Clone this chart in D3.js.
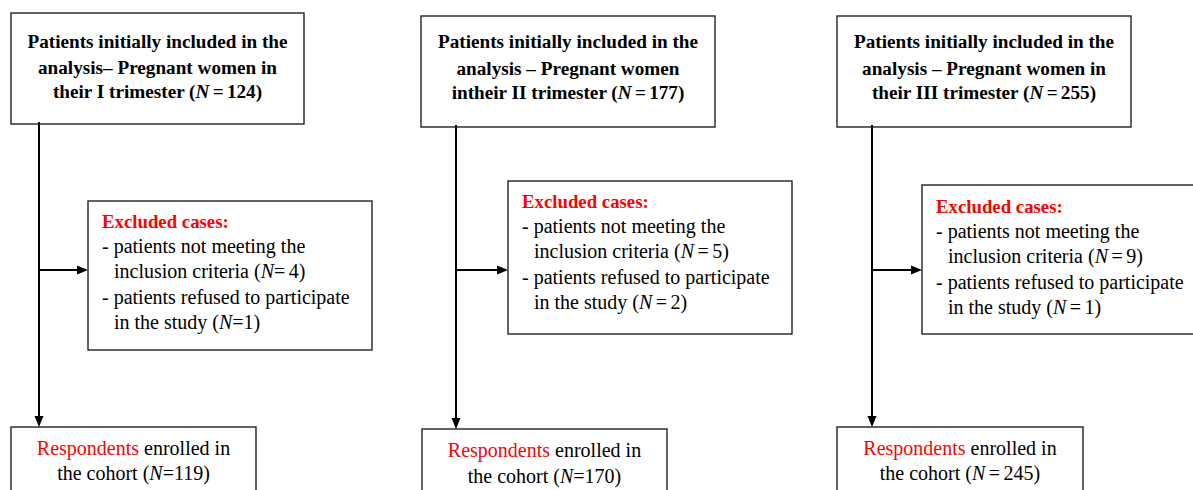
<!DOCTYPE html>
<html><head><meta charset="utf-8">
<script src="https://cdn.jsdelivr.net/npm/d3@7"></script>
<style>html,body{margin:0;padding:0;background:#fff;overflow:hidden}</style>
</head><body>
<svg id="chart" width="1193" height="490"></svg>
<script>
// ---- data ----
const trimesters = ["I", "II", "III"];
const initialN = [124, 177, 255];
const criteriaN = [4, 5, 9];
const refusedN = [1, 2, 1];
const enrolledN = [119, 170, 245];
const topLine2 = ["analysis\u2013 Pregnant women in", "analysis \u2013 Pregnant women", "analysis \u2013 Pregnant women in"];
const topLine3Prefix = ["their ", "intheir ", "their "];
const eqInitial = [" = ", " = ", " = "];
const eqCriteria = ["= ", " = ", " = "];
const eqRefused = ["=", " = ", " = "];
const eqEnrolled = ["=", "=", " = "];

// ---- layout (positions only) ----
const layout = [
  {top:{x:11,y:13,w:293,h:111}, topBase:[48,74,98], spine:39, ex:{x:88,y:201,w:284,h:149}, exBase:228, bot:{x:11,y:427,w:245}, botBase:[455,480]},
  {top:{x:421,y:16,w:294,h:111}, topBase:[48,75,99], spine:456, ex:{x:508,y:181,w:284,h:153}, exBase:208, bot:{x:422,y:429,w:245}, botBase:[457,483]},
  {top:{x:837,y:16,w:294,h:111}, topBase:[48,75,99], spine:872, ex:{x:922,y:185,w:290,h:149}, exBase:213, bot:{x:837,y:427,w:246}, botBase:[455,480]}
];
const arrowY = 270, lineGap = 25.2;
const FONT = "Liberation Serif";
const BOLD = 19.2, REG = 20, HEAD = 18.8;

const svg = d3.select("#chart");
const col = d3.scaleOrdinal().domain(trimesters).range(layout);

function writeLine(g, x, y, anchor, segs, size, bold) {
  const t = g.append("text").attr("x", x).attr("y", y).attr("text-anchor", anchor)
    .style("font-family", FONT)
    .style("font-size", size + "px").style("font-weight", bold ? "bold" : "normal").attr("fill", "#000");
  segs.forEach(s => {
    const sp = t.append("tspan").text(s.t);
    if (s.i) sp.style("font-style", "italic");
    if (s.red) sp.attr("fill", "#ff0000");
    if (s.b) sp.style("font-weight", "bold");
    if (s.tight) sp.style("word-spacing", "-1.5px");
  });
  return t;
}
function arrowHead(g, x, y, dir) {
  const L = 11, W = 4.5;
  let pts;
  if (dir === "right") pts = [[x, y], [x - L, y - W], [x - L, y + W]];
  else pts = [[x, y], [x - W, y - L], [x + W, y - L]];
  g.append("path").attr("d", d3.line()(pts) + "Z").attr("fill", "#000");
}

trimesters.forEach((tri, i) => {
  const L = col(tri);
  const g = svg.append("g");
  g.append("rect").attr("x", L.top.x).attr("y", L.top.y).attr("width", L.top.w).attr("height", L.top.h)
    .attr("fill", "#fff").attr("stroke", "#222").attr("stroke-width", 1.4);
  g.append("rect").attr("x", L.ex.x).attr("y", L.ex.y).attr("width", L.ex.w).attr("height", L.ex.h)
    .attr("fill", "#fff").attr("stroke", "#222").attr("stroke-width", 1.4);
  g.append("rect").attr("x", L.bot.x).attr("y", L.bot.y).attr("width", L.bot.w).attr("height", 80)
    .attr("fill", "#fff").attr("stroke", "#222").attr("stroke-width", 1.4);
  g.append("line").attr("x1", L.spine).attr("x2", L.spine).attr("y1", L.top.y + L.top.h - 2).attr("y2", L.bot.y - 9)
    .attr("stroke", "#000").attr("stroke-width", 2);
  arrowHead(g, L.spine, L.bot.y, "down");
  g.append("line").attr("x1", L.spine).attr("x2", L.ex.x - 9).attr("y1", arrowY).attr("y2", arrowY)
    .attr("stroke", "#000").attr("stroke-width", 2);
  arrowHead(g, L.ex.x, arrowY, "right");

  const cx = L.top.x + L.top.w / 2;
  writeLine(g, cx, L.topBase[0], "middle", [{t: "Patients initially included in the"}], BOLD, true);
  writeLine(g, cx, L.topBase[1], "middle", [{t: topLine2[i]}], BOLD, true);
  writeLine(g, cx, L.topBase[2], "middle",
    [{t: topLine3Prefix[i] + tri + " trimester ("}, {t: "N", i: true}, {t: eqInitial[i] + initialN[i] + ")", tight: true}], BOLD, true);

  const ex0 = L.ex.x + 14, ex1 = L.ex.x + 26;
  writeLine(g, ex0, L.exBase, "start", [{t: "Excluded cases:", red: true, b: true}], HEAD, true);
  writeLine(g, ex0, L.exBase + lineGap, "start", [{t: "- patients not meeting the"}], REG, false);
  writeLine(g, ex1, L.exBase + 2 * lineGap, "start",
    [{t: "inclusion criteria ("}, {t: "N", i: true}, {t: eqCriteria[i] + criteriaN[i] + ")", tight: true}], REG, false);
  writeLine(g, ex0, L.exBase + 3 * lineGap, "start", [{t: "- patients refused to participate"}], REG, false);
  writeLine(g, ex1, L.exBase + 4 * lineGap, "start",
    [{t: "in the study ("}, {t: "N", i: true}, {t: eqRefused[i] + refusedN[i] + ")", tight: true}], REG, false);

  const bx = L.bot.x + L.bot.w / 2;
  writeLine(g, bx, L.botBase[0], "middle", [{t: "Respondents", red: true}, {t: " enrolled in"}], REG, false);
  writeLine(g, bx, L.botBase[1], "middle",
    [{t: "the cohort ("}, {t: "N", i: true}, {t: eqEnrolled[i] + enrolledN[i] + ")", tight: true}], REG, false);
});
</script>
</body></html>
